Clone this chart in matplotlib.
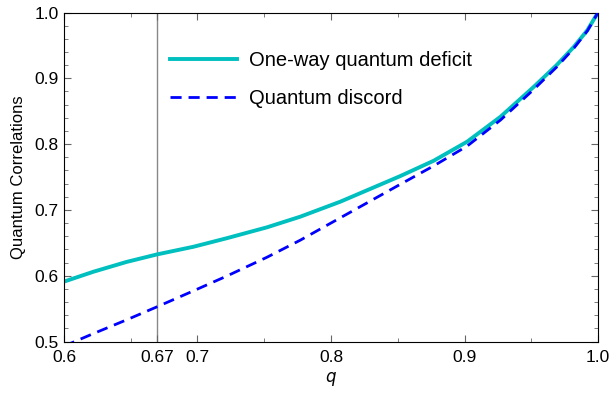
import numpy as np
import matplotlib
matplotlib.use("Agg")
import matplotlib.pyplot as plt
from matplotlib.ticker import MultipleLocator

plt.rcParams['font.family'] = ['Liberation Sans', 'DejaVu Sans']

# values
q = [0.6, 0.622, 0.647, 0.67, 0.697, 0.722, 0.752, 0.777, 0.807,
     0.852, 0.877, 0.902, 0.927, 0.952, 0.969, 0.982, 0.992, 1.0]
deficit = [0.591, 0.606, 0.621, 0.6325, 0.644, 0.657, 0.6735, 0.6897, 0.7125,
           0.7515, 0.7748, 0.8037, 0.8416, 0.8872, 0.920, 0.948, 0.973, 1.0]
discord = [0.493, 0.512, 0.533, 0.553, 0.577, 0.5995, 0.628, 0.654, 0.688,
           0.739, 0.767, 0.797, 0.8366, 0.8833, 0.917, 0.946, 0.972, 1.0]
q_mark = 0.67
xticks = [0.6, 0.67, 0.7, 0.8, 0.9, 1.0]
xticklabels = ['0.6', '0.67', '0.7', '0.8', '0.9', '1.0']

fig = plt.figure(figsize=(6.09, 3.95), dpi=100)
ax = fig.add_axes([64/609, 1-341.5/395, (598-64)/609, (341.5-12.5)/395])

ax.axvline(q_mark, color='#888888', lw=1.0, zorder=1)
ax.plot(q, deficit, color='#00BFBF', lw=2.8, solid_joinstyle='round',
        label='One-way quantum deficit', zorder=2)
ax.plot(q, discord, color='#0000FF', lw=2.0, ls=(0, (4, 2.5)),
        label='Quantum discord', zorder=3)

ax.set_xlim(0.6, 1.0)
ax.set_ylim(0.5, 1.0)
ax.set_xticks(xticks)
ax.set_xticklabels(xticklabels)
ax.xaxis.set_minor_locator(MultipleLocator(0.05))
ax.set_yticks(np.arange(0.5, 1.01, 0.1))
ax.set_yticklabels(['0.5', '0.6', '0.7', '0.8', '0.9', '1.0'])
ax.yaxis.set_minor_locator(MultipleLocator(0.02))
ax.tick_params(which='both', direction='in', top=True, right=True, color='#666666',
               labelsize=12.5)
ax.tick_params(which='major', length=5)
ax.tick_params(which='minor', length=3)
ax.tick_params(axis='x', pad=6)
ax.tick_params(axis='y', pad=4)

ax.set_xlabel('$q$', fontsize=12, labelpad=4)
ax.set_ylabel('Quantum Correlations', fontsize=12, labelpad=6)

ax.legend(loc='upper left', bbox_to_anchor=(0.165, 0.938), frameon=False, fontsize=14.5,
          handlelength=3.3, handletextpad=0.6, labelspacing=0.95)

fig.savefig('out.png', dpi=100)
